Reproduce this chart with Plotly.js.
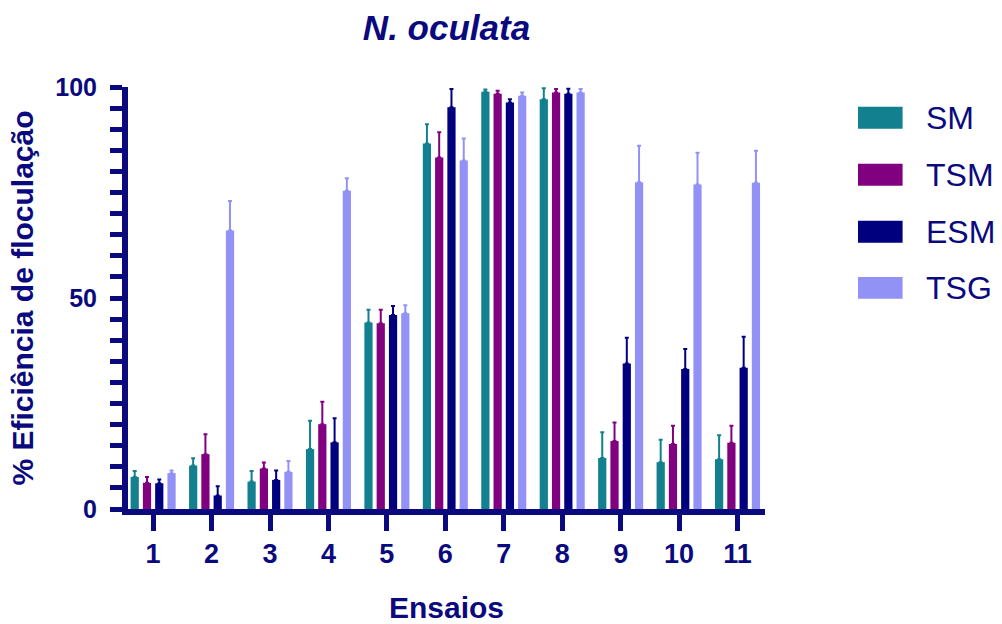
<!DOCTYPE html>
<html>
<head>
<meta charset="utf-8">
<script src="https://cdn.plot.ly/plotly-3.0.1.min.js"></script>
<style>html,body{margin:0;padding:0;background:#fff;}#chart{width:1002px;height:624px;}</style>
</head>
<body>
<div id="chart"></div>
<script>
// ---- data ----
const ensaios = ['1','2','3','4','5','6','7','8','9','10','11'];
const seriesNames = ['SM','TSM','ESM','TSG'];

const SM_mean  = [7.6, 10.3, 6.5, 14.2, 44.2, 86.6, 98.9, 97.1, 12.1, 11.1, 11.8];
const SM_sd    = [1.4, 1.7, 2.5, 6.7, 3.0, 4.6, 0.5, 2.6, 6.1, 5.3, 5.7];
const TSM_mean = [6.2, 13.0, 9.6, 20.1, 44.0, 83.3, 98.4, 98.7, 16.1, 15.4, 15.7];
const TSM_sd   = [1.4, 4.7, 1.4, 5.3, 3.2, 6.0, 0.7, 0.8, 4.4, 4.3, 4.0];
const ESM_mean = [6.1, 3.2, 6.9, 15.8, 46.0, 95.2, 96.3, 98.4, 34.5, 33.2, 33.5];
const ESM_sd   = [0.9, 2.2, 2.2, 5.7, 2.1, 4.3, 0.8, 1.2, 6.1, 4.7, 7.3];
const TSG_mean = [8.5, 66.0, 8.8, 75.4, 46.4, 82.6, 97.9, 98.7, 77.4, 76.9, 77.3];
const TSG_sd   = [0.6, 7.0, 2.6, 3.0, 1.9, 5.2, 0.8, 0.8, 8.7, 7.5, 7.6];

// y ticks: labelled majors and unlabelled minors
const yTickVals = [0, 5, 10, 15, 20, 25, 30, 35, 40, 45, 50, 55, 60, 65, 70, 75, 80, 85, 90, 95, 100];
const yTickText = ['0', '', '', '', '', '', '', '', '', '', '50', '', '', '', '', '', '', '', '', '', '100'];

// ---- styling ----
const NAVY = '#0a0a7e';
const colors = ['#12808f', '#800080', '#00007f', '#9292f6'];
const FONT = 'Liberation Sans, Arial, sans-serif';

const means = [SM_mean, TSM_mean, ESM_mean, TSG_mean];
const sds = [SM_sd, TSM_sd, ESM_sd, TSG_sd];

const traces = seriesNames.map((name, i) => ({
  type: 'bar',
  name: name,
  x: ensaios,
  y: means[i],
  marker: {color: colors[i], line: {width: 0}},
  error_y: {
    type: 'data', symmetric: false,
    array: sds[i], arrayminus: sds[i].map(() => 0),
    color: colors[i], thickness: 2, width: 2
  },
  showlegend: false,
  hoverinfo: 'x+y+name'
}));

// legend drawn in paper coordinates
const legendY = [0.927, 0.792, 0.657, 0.524];
const shapes = [];
const annotations = [];
seriesNames.forEach((name, i) => {
  shapes.push({
    type: 'rect', xref: 'paper', yref: 'paper',
    x0: 1.146, x1: 1.216, y0: legendY[i] - 0.026, y1: legendY[i] + 0.026,
    fillcolor: colors[i], line: {width: 0}
  });
  annotations.push({
    xref: 'paper', yref: 'paper', x: 1.250, y: legendY[i],
    xanchor: 'left', yanchor: 'middle', showarrow: false,
    text: name, font: {family: FONT, size: 32, color: NAVY}
  });
});

const layout = {
  width: 1002, height: 624,
  paper_bgcolor: '#fff', plot_bgcolor: '#fff',
  margin: {l: 128, r: 237, t: 87, b: 115},
  barmode: 'group', bargap: 0.16, bargroupgap: 0.33,
  title: {
    text: 'N. oculata', x: 0.5, xref: 'paper', y: 0.955, yref: 'container',
    xanchor: 'center', yanchor: 'middle',
    font: {family: FONT, size: 35, color: NAVY, weight: 'bold', style: 'italic'}
  },
  xaxis: {
    type: 'category', range: [-0.43, 10.47],
    showline: true, linecolor: NAVY, linewidth: 6,
    ticks: 'outside', ticklen: 16, tickwidth: 5, tickcolor: NAVY,
    showgrid: false, zeroline: false,
    tickfont: {family: FONT, size: 27, color: NAVY, weight: 'bold'},
    title: {text: 'Ensaios', standoff: 39,
      font: {family: FONT, size: 30, color: NAVY, weight: 'bold'}},
    fixedrange: true
  },
  yaxis: {
    range: [0, 100],
    showline: true, linecolor: NAVY, linewidth: 6,
    ticks: 'outside', ticklen: 12, tickwidth: 5, tickcolor: NAVY,
    tickmode: 'array', tickvals: yTickVals, ticktext: yTickText,
    ticklabelstandoff: 8,
    showgrid: false, zeroline: false,
    tickfont: {family: FONT, size: 25, color: NAVY, weight: 'bold'},
    title: {text: '% Eficiência de floculação', standoff: 15,
      font: {family: FONT, size: 30, color: NAVY, weight: 'bold'}},
    fixedrange: true
  },
  shapes: shapes,
  annotations: annotations
};

Plotly.newPlot('chart', traces, layout, {displayModeBar: false, staticPlot: true});
</script>
</body>
</html>
